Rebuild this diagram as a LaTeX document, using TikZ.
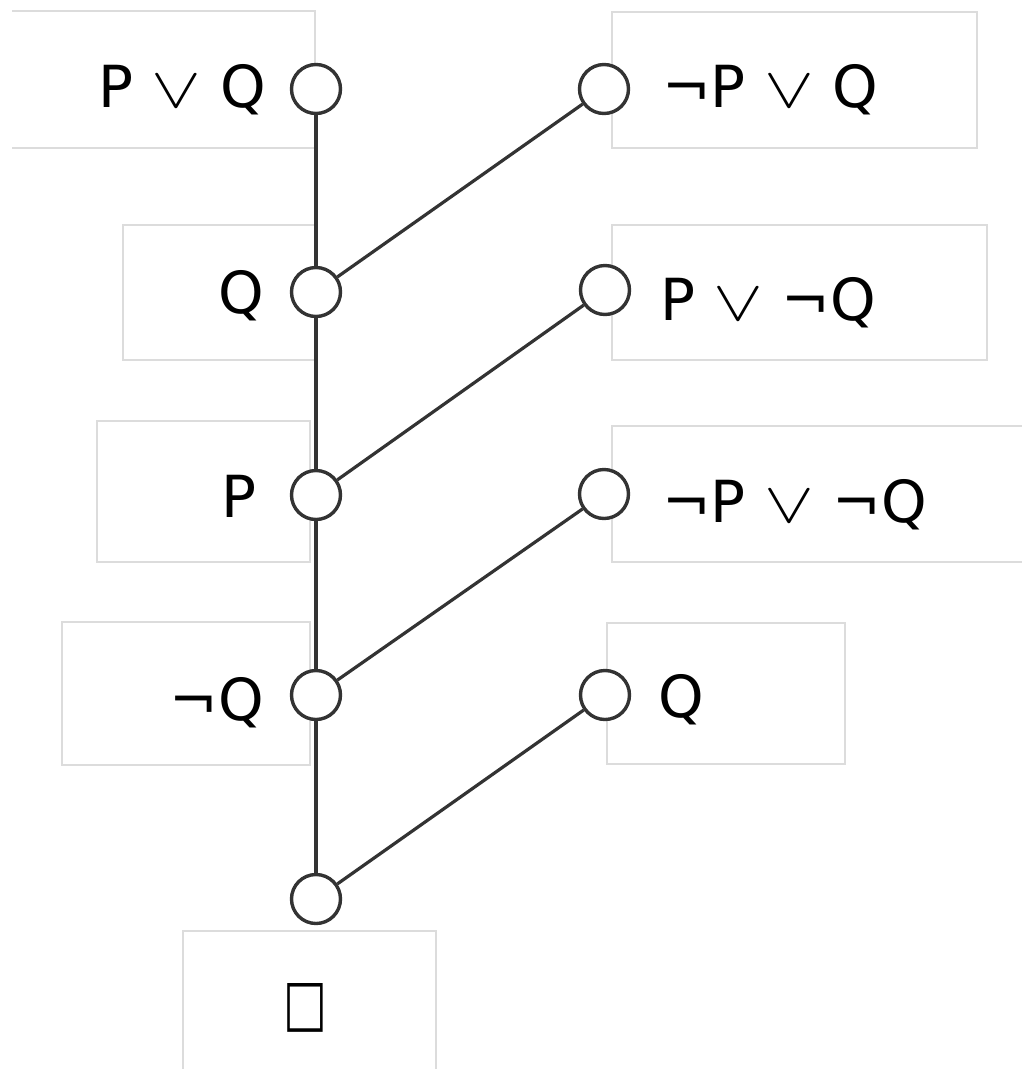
\documentclass[tikz,border=0pt]{standalone}
\usepackage{fontspec}
\usepackage{graphicx}
\setmainfont{DejaVu Sans}
\definecolor{boxgray}{HTML}{DCDCDC}
\definecolor{linegray}{HTML}{333333}
% thin, wide disjunction sign
\newcommand{\disj}{\scalebox{3.0}[2.3]{$\lor$}}
\begin{document}
\begin{tikzpicture}[x=1pt,y=-1pt,
  lbl/.style={draw=boxgray, line width=1.5pt},
  dot/.style={circle, draw=linegray, fill=white, line width=3.4pt, minimum size=49pt, inner sep=0pt},
  link/.style={draw=linegray, line width=3.2pt},
  txt/.style={font=\fontsize{58}{60}\selectfont, inner sep=0pt, text=black}]
\useasboundingbox (0,0) rectangle (1022,1069);

% label frames
\draw[lbl] (12,11) -- (315,11) -- (315,148) -- (12,148);
\draw[lbl] (123,225) rectangle (315,360);
\draw[lbl] (97,421) rectangle (310,562);
\draw[lbl] (62,622) rectangle (310,765);
\draw[lbl] (183,931) rectangle (436,1080);
\draw[lbl] (612,12) rectangle (977,148);
\draw[lbl] (612,225) rectangle (987,360);
\draw[lbl] (612,426) rectangle (1035,562);
\draw[lbl] (607,623) rectangle (845,764);

% clause nodes
\node[dot] (L1) at (316,89) {};
\node[dot] (L2) at (316,292) {};
\node[dot] (L3) at (316,495) {};
\node[dot] (L4) at (316,695) {};
\node[dot] (L5) at (316,899) {};
\node[dot] (R1) at (604,89) {};
\node[dot] (R2) at (605,290) {};
\node[dot] (R3) at (604,494) {};
\node[dot] (R4) at (605,695) {};

% resolution links
\draw[link] (L1) -- (L2) -- (L3) -- (L4) -- (L5);
\draw[link] (R1) -- (L2);
\draw[link] (R2) -- (L3);
\draw[link] (R3) -- (L4);
\draw[link] (R4) -- (L5);

% clause texts
\node[txt, anchor=base east] (tL1) at (266,107) {P \disj{} Q};
\node[txt, anchor=base east] (tL2) at (264,313) {Q};
\node[txt, anchor=base east] (tL3) at (257,517) {P};
\node[txt, anchor=base east] (tL4) at (264,720) {¬Q};
\node[txt, anchor=base west] (tR1) at (662,107) {¬P \disj{} Q};
\node[txt, anchor=base west] (tR2) at (660,320) {P \disj{} ¬Q};
\node[txt, anchor=base west] (tR3) at (662,522) {¬P \disj{} ¬Q};
\node[txt, anchor=base west] (tR4) at (658,717) {Q};
\node[txt] (tEmpty) at (305,1008) {\scalebox{0.8}[1.1]{□}};
\end{tikzpicture}
\end{document}
